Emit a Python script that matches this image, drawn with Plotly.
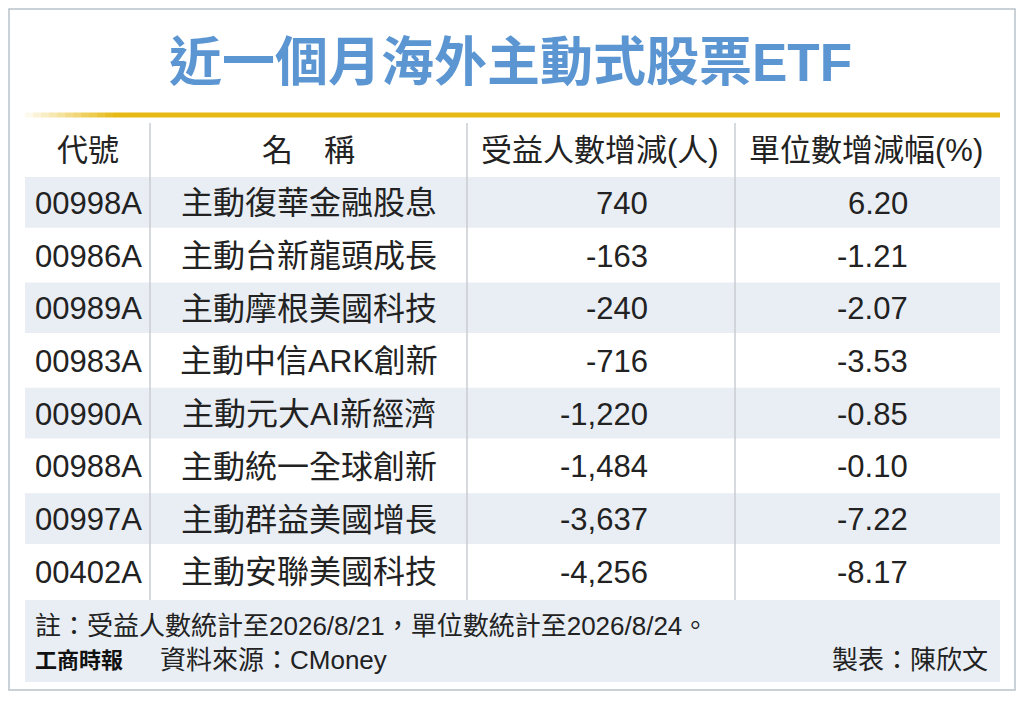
import plotly.graph_objects as go

title = "近一個月海外主動式股票ETF"
headers = ["代號", "名　稱", "受益人數增減(人)", "單位數增減幅(%)"]
codes = ["00998A", "00986A", "00989A", "00983A", "00990A", "00988A", "00997A", "00402A"]
names = ["主動復華金融股息", "主動台新龍頭成長", "主動摩根美國科技", "主動中信ARK創新",
         "主動元大AI新經濟", "主動統一全球創新", "主動群益美國增長", "主動安聯美國科技"]
holders = [740, -163, -240, -716, -1220, -1484, -3637, -4256]
unit_pct = [6.20, -1.21, -2.07, -3.53, -0.85, -0.10, -7.22, -8.17]
note = "註：受益人數統計至2026/8/21，單位數統計至2026/8/24。"
source = "資料來源：CMoney"
maker = "製表：陳欣文"
logo = "工商時報"

F = "Liberation Sans, Arial, Noto Sans CJK TC, sans-serif"
fig = go.Figure()
shapes = []
ann = []

def rect(x0, y0, x1, y1, fill=None, line=None, lw=0):
    shapes.append(dict(type="rect", x0=x0, y0=y0, x1=x1, y1=y1, layer="below",
                       fillcolor=fill or "rgba(0,0,0,0)",
                       line=dict(color=line or "rgba(0,0,0,0)", width=lw)))

def txt(x, y, s, size, color="#222", anchor="center", weight="normal"):
    ann.append(dict(x=x, y=y, text=s, showarrow=False, xanchor=anchor, yanchor="middle",
                    font=dict(family=F, size=size, color=color, weight=weight)))

rect(9, 9, 1015, 690, line="#b9c3cc", lw=1.5)
for i in range(12):
    a = (i + 1) / 12
    shapes.append(dict(type="line", x0=25 + i * 8, x1=25 + (i + 1) * 8, y0=115, y1=115,
                       line=dict(color=f"rgba(230,185,20,{a:.2f})", width=5)))
shapes.append(dict(type="line", x0=121, x1=1000, y0=115, y1=115, line=dict(color="#e6b914", width=5)))

txt(510, 62, title, 53, color="#5b96d2", weight="bold")

row_h = 52.7
top = 177
for i in range(len(codes)):
    y0 = top + i * row_h
    if i % 2 == 0:
        rect(25, y0, 1000, y0 + row_h - 2, fill="#e9eef4")
    yc = y0 + row_h / 2
    txt(88, yc, codes[i], 31)
    txt(309, yc, names[i], 32)
    txt(650, yc, f"{holders[i]:,}", 31, anchor="right")
    txt(910, yc, f"{unit_pct[i]:.2f}", 31, anchor="right")

for x in (150, 467, 735):
    shapes.append(dict(type="line", x0=x, x1=x, y0=123, y1=600, line=dict(color="#c8ccd2", width=1.5)))

hx = [88, 308, 600, 866]
for x, h in zip(hx, headers):
    txt(x, 150, h, 31)

rect(25, 600, 1000, 682, fill="#e9eef4")
txt(33, 626, note, 26, anchor="left")
txt(33, 660, logo, 22, color="#111", anchor="left", weight="bold")
txt(158, 660, source, 26, anchor="left")
txt(990, 660, maker, 26, anchor="right")

fig.update_layout(width=1016, height=695, margin=dict(l=0, r=0, t=0, b=0),
                  paper_bgcolor="white", plot_bgcolor="white",
                  xaxis=dict(range=[8, 1024], visible=False, fixedrange=True),
                  yaxis=dict(range=[703, 8], visible=False, fixedrange=True),
                  shapes=shapes, annotations=ann, showlegend=False)
fig.write_html("out.html", config={"displayModeBar": False})
